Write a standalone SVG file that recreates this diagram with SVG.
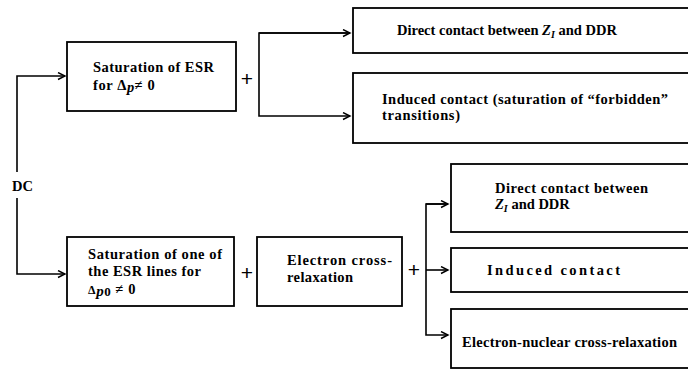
<svg xmlns="http://www.w3.org/2000/svg" width="688" height="379" viewBox="0 0 688 379">
<defs>
<marker id="arr" markerUnits="userSpaceOnUse" markerWidth="10" markerHeight="10" refX="8" refY="4" orient="auto">
<path d="M1,0.5 L8,4 L1,7.5" fill="none" stroke="#000" stroke-width="1.4"/>
</marker>
<style>
.box{fill:#fff;stroke:#000;stroke-width:1.8}
.con{fill:none;stroke:#000;stroke-width:1.6}
.t{font-family:"Liberation Serif","Times New Roman",serif;font-weight:bold;font-size:14.5px;fill:#000}
.plus{font-family:"Liberation Sans",Arial,sans-serif;font-size:21px;fill:#000;text-anchor:middle}
.i{font-style:italic}
</style>
</defs>
<rect width="688" height="379" fill="#fff"/>

<g id="connectors">
<path class="con" d="M17,172 V76 H65" marker-end="url(#arr)"/>
<path class="con" d="M17,198 V274 H65" marker-end="url(#arr)"/>
<path class="con" d="M350,33 H259 V116 H350" marker-end="url(#arr)"/>
<path class="con" d="M259,33 H350" marker-end="url(#arr)"/>
<path class="con" d="M448,204 H426 V335 H448" marker-end="url(#arr)"/>
<path class="con" d="M426,204 H448" marker-end="url(#arr)"/>
<path class="con" d="M426,270 H448" marker-end="url(#arr)"/>
<text class="plus" x="247" y="86">+</text>
<text class="plus" x="247" y="280">+</text>
<text class="plus" x="414" y="277">+</text>
</g>

<g id="dc">
<text class="t" x="12" y="191" font-size="13.5">DC</text>
</g>

<g id="sat-esr">
<rect class="box" x="67" y="42" width="169" height="69"/>
<text class="t" x="93" y="72" textLength="121" lengthAdjust="spacing">Saturation of ESR</text>
<text class="t" x="93" y="90" letter-spacing="0.6">for Δ<tspan class="i" dy="2">p</tspan><tspan dy="-2">≠ 0</tspan></text>
</g>

<g id="direct-top">
<rect class="box" x="353" y="8" width="340" height="45"/>
<text class="t" x="397" y="35" font-size="13.3">Direct contact between <tspan class="i">Z</tspan><tspan class="i" font-size="10" dy="3">I</tspan><tspan dy="-3"> and DDR</tspan></text>
</g>

<g id="induced-top">
<rect class="box" x="353" y="73" width="340" height="70"/>
<text class="t" x="382" y="104" textLength="286" lengthAdjust="spacing">Induced contact (saturation of “forbidden”</text>
<text class="t" x="382" y="120" textLength="78" lengthAdjust="spacing">transitions)</text>
</g>

<g id="sat-one">
<rect class="box" x="67" y="237" width="167" height="69"/>
<text class="t" x="88" y="259" textLength="134" lengthAdjust="spacing">Saturation of one of</text>
<text class="t" x="88" y="276" textLength="113" lengthAdjust="spacing">the ESR lines for</text>
<text class="t" x="88" y="294" letter-spacing="0.6"><tspan font-size="12">Δ</tspan><tspan class="i" font-size="15" dy="2">p</tspan><tspan font-size="13">0</tspan><tspan dy="-2"> ≠ 0</tspan></text>
</g>

<g id="electron-cross">
<rect class="box" x="257" y="237" width="145" height="69"/>
<text class="t" x="287" y="265" textLength="105" lengthAdjust="spacing">Electron cross-</text>
<text class="t" x="287" y="282" textLength="66" lengthAdjust="spacing">relaxation</text>
</g>

<g id="direct-bottom">
<rect class="box" x="451" y="164" width="242" height="68"/>
<text class="t" x="495" y="193" textLength="153" lengthAdjust="spacing">Direct contact between</text>
<text class="t" x="495" y="209" font-size="13.5"><tspan class="i">Z</tspan><tspan class="i" font-size="10" dy="3">I</tspan><tspan dy="-3"> and DDR</tspan></text>
</g>

<g id="induced-bottom">
<rect class="box" x="451" y="248" width="242" height="44"/>
<text class="t" x="487" y="275" textLength="133" lengthAdjust="spacing">Induced contact</text>
</g>

<g id="electron-nuclear">
<rect class="box" x="451" y="309" width="242" height="59"/>
<text class="t" x="462" y="347" textLength="215" lengthAdjust="spacing">Electron-nuclear cross-relaxation</text>
</g>
</svg>
